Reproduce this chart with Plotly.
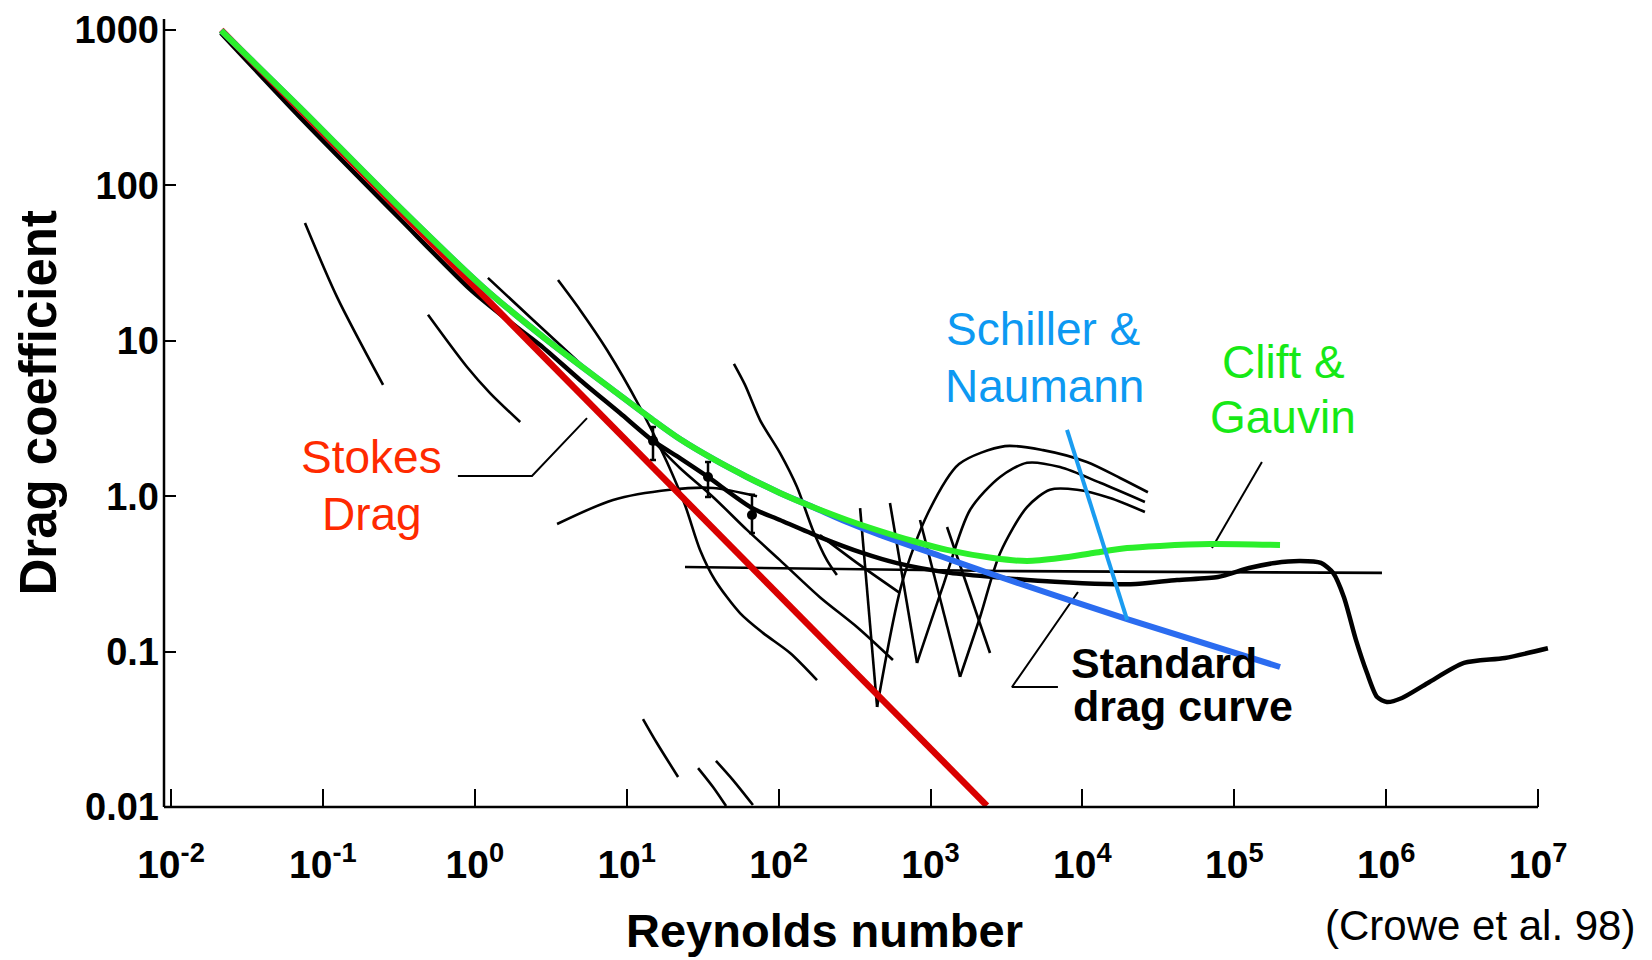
import plotly.graph_objects as go

# ---------------- data (Re, Cd) ----------------
x_tickvals = [1e-2, 1e-1, 1e0, 1e1, 1e2, 1e3, 1e4, 1e5, 1e6, 1e7]
x_ticktext = ["10<sup>-2</sup>", "10<sup>-1</sup>", "10<sup>0</sup>", "10<sup>1</sup>", "10<sup>2</sup>",
              "10<sup>3</sup>", "10<sup>4</sup>", "10<sup>5</sup>", "10<sup>6</sup>", "10<sup>7</sup>"]
y_tickvals = [0.01, 0.1, 1, 10, 100, 1000]
y_ticktext = ["0.01", "0.1", "1.0", "10", "100", "1000"]

stokes_re = [0.0214, 2350]
stokes_cd = [1000, 0.0102]

clift_re = [0.0214, 0.0706, 0.277, 1.13, 2.99, 8.13, 14.9, 22.4, 38.1, 61.9, 102, 168, 282, 465,
            767, 1285, 2580, 4320, 7120, 11750, 19700, 32400, 69200, 200000]
clift_cd = [990, 317, 83.0, 22.2, 10.1, 4.82, 3.09, 2.33, 1.71, 1.33, 1.05, 0.852, 0.703, 0.597,
            0.515, 0.451, 0.400, 0.383, 0.400, 0.431, 0.464, 0.479, 0.492, 0.485]

schiller_re = [0.0214, 0.0706, 0.277, 1.13, 2.99, 8.13, 14.9, 22.4, 38.1, 61.9, 102, 168, 282,
               465, 1156, 2870, 19700, 200000]
schiller_cd = [990, 317, 83.0, 22.2, 10.1, 4.82, 3.09, 2.33, 1.71, 1.33, 1.05, 0.852, 0.682,
               0.563, 0.412, 0.302, 0.162, 0.0796]

std_re = [0.0213, 0.0706, 0.322, 0.929, 1.58, 2.69, 4.93, 9.03, 14.9, 22.4, 34.3, 66.8, 102, 187,
          360, 602, 1343, 3000, 6600, 14300, 22500, 42000, 78000, 125000, 185000, 271000, 372000,
          447000, 527000, 632000, 748000, 871000, 1.01e6, 1.27e6, 1.88e6, 3.25e6, 6.05e6, 1.16e7]
std_cd = [957, 275, 60.8, 21.5, 14.0, 9.40, 5.60, 3.43, 2.27, 1.76, 1.33, 0.839, 0.703, 0.546,
          0.430, 0.371, 0.321, 0.298, 0.281, 0.272, 0.272, 0.289, 0.302, 0.345, 0.372, 0.383, 0.372,
          0.321, 0.224, 0.119, 0.0728, 0.0510, 0.0474, 0.0503, 0.0628, 0.0845, 0.091, 0.105]

pts_re = [14.9, 34.3, 66.8]
pts_cd = [2.27, 1.33, 0.757]
pts_hi = [2.79, 1.66, 1.02]
pts_lo = [1.71, 0.99, 0.58]

# experimental fragments (thin black)
exp_a_re = [0.0762, 0.124, 0.249];  exp_a_cd = [57.3, 19.1, 5.20]
exp_b_re = [0.492, 0.889, 1.26, 1.99];  exp_b_cd = [14.7, 6.78, 4.61, 3.00]
exp_c_re = [1.22, 2.42, 5.32];  exp_c_cd = [25.4, 13.6, 6.68]
exp_d_re = [3.53, 4.93, 7.42, 12.2, 18.4, 24.2, 30.4, 38.1, 55.7, 78.9, 119, 179]
exp_d_cd = [24.6, 15.8, 8.73, 3.75, 1.66, 0.877, 0.451, 0.289, 0.177, 0.132, 0.098, 0.0656]
exp_e_re = [50.8, 60.1, 75.5, 102, 132, 168, 208, 242]
exp_e_cd = [7.10, 5.20, 3.09, 1.90, 1.15, 0.607, 0.388, 0.311]
exp_f_re = [3.48, 8.13, 19.3, 37.0, 72.1];  exp_f_cd = [0.662, 0.946, 1.10, 1.13, 1.00]
exp_g_re = [24.2, 2870, 938000];  exp_g_cd = [0.350, 0.330, 0.321]
exp_h_re = [14.9, 22.4, 37.0, 61.9, 102, 187, 328, 566]
exp_h_cd = [2.27, 1.52, 0.989, 0.607, 0.388, 0.224, 0.144, 0.0883]
exp_i_re = [187, 344, 630];  exp_i_cd = [0.562, 0.360, 0.238]
zig1_re = [344, 445];  zig1_cd = [0.839, 0.0440]
arch1_re = [445, 649, 963, 1541, 3090, 5500, 10700, 17700, 27000]
arch1_cd = [0.0440, 0.276, 0.780, 1.61, 2.10, 1.98, 1.66, 1.31, 1.06]
zig2_re = [541, 815];  zig2_cd = [0.904, 0.0845]
arch2_re = [815, 1227, 1820, 2870, 4320, 7120, 13100, 25800]
arch2_cd = [0.0845, 0.276, 0.815, 1.33, 1.64, 1.54, 1.22, 0.918]
zig3_re = [853, 1565];  zig3_cd = [0.703, 0.0687]
arch3_re = [1565, 2120, 2870, 4320, 6120, 9220, 15200, 25800]
arch3_cd = [0.0687, 0.167, 0.430, 0.851, 1.10, 1.10, 0.973, 0.791]
zig4_re = [1285, 2465];  zig4_cd = [0.634, 0.098]
low1_re = [12.8, 15.8, 21.8];  low1_cd = [0.0368, 0.0258, 0.0156]
low2_re = [29.5, 37.0, 45.1];  low2_cd = [0.0178, 0.01345, 0.01014]
low3_re = [38.7, 50.1, 67.8];  low3_cd = [0.0198, 0.0149, 0.0103]

# leader lines for the labels
stokes_ptr_re = [0.774, 2.38, 5.48];  stokes_ptr_cd = [1.35, 1.35, 3.18]
std_ptr_re = [6900, 3440, 9350];  std_ptr_cd = [0.0592, 0.0592, 0.242]
clift_ptr_re = [152000, 71300];  clift_ptr_cd = [1.66, 0.465]
schiller_ptr_re = [7920, 19700];  schiller_ptr_cd = [2.67, 0.160]

# ---------------- styles ----------------
RED = "#d90000"
GREEN = "#2bef2b"
GREEN_TXT = "#16e916"
BLUE = "#2b6cf0"
BLUE_PTR = "#1a9cf0"
BLUE_TXT = "#0d99f2"
STOKES_TXT = "#ff2a00"
SANS = "Liberation Sans, Arial, sans-serif"

fig = go.Figure()


def add_line(xs, ys, color="black", width=2.5, spline=True, smoothing=1.0):
    fig.add_trace(go.Scatter(
        x=xs, y=ys, mode="lines", hoverinfo="skip", showlegend=False,
        line=dict(color=color, width=width,
                  shape="spline" if spline else "linear", smoothing=smoothing)))


thin = [(exp_a_re, exp_a_cd), (exp_b_re, exp_b_cd), (exp_c_re, exp_c_cd), (exp_d_re, exp_d_cd),
        (exp_e_re, exp_e_cd), (exp_f_re, exp_f_cd), (exp_g_re, exp_g_cd), (exp_h_re, exp_h_cd),
        (exp_i_re, exp_i_cd), (arch1_re, arch1_cd), (arch2_re, arch2_cd), (arch3_re, arch3_cd),
        (low1_re, low1_cd), (low2_re, low2_cd), (low3_re, low3_cd)]
for xs, ys in thin:
    add_line(xs, ys, width=2.6, smoothing=0.8)
for xs, ys in [(zig1_re, zig1_cd), (zig2_re, zig2_cd), (zig3_re, zig3_cd), (zig4_re, zig4_cd)]:
    add_line(xs, ys, width=2.6, spline=False)

# leader lines
for xs, ys in [(stokes_ptr_re, stokes_ptr_cd), (std_ptr_re, std_ptr_cd), (clift_ptr_re, clift_ptr_cd)]:
    add_line(xs, ys, width=2, spline=False)

# standard drag curve (thick black)
add_line(std_re, std_cd, width=4.5, smoothing=0.7)
fig.add_trace(go.Scatter(
    x=pts_re, y=pts_cd, mode="markers", hoverinfo="skip", showlegend=False,
    marker=dict(color="black", size=10),
    error_y=dict(type="data", symmetric=False,
                 array=[h - v for h, v in zip(pts_hi, pts_cd)],
                 arrayminus=[v - l for v, l in zip(pts_cd, pts_lo)],
                 color="black", thickness=2.5, width=3)))

# Stokes, Schiller & Naumann, Clift & Gauvin
add_line(stokes_re, stokes_cd, color=RED, width=6.5, spline=False)
add_line(schiller_re, schiller_cd, color=BLUE, width=6, smoothing=0.8)
add_line(clift_re, clift_cd, color=GREEN, width=6, smoothing=0.8)
add_line(schiller_ptr_re, schiller_ptr_cd, color=BLUE_PTR, width=4, spline=False)

# ---------------- layout geometry ----------------
W, H = 1652, 960
L, R, T, B = 164, 92, 10, 153
PW, PH = W - L - R, H - T - B


def px(xp):
    return (xp - L) / PW


def py(yp):
    return (H - B - yp) / PH


labels = [
    ("Stokes", 371.5, 457, STOKES_TXT, 46, "normal", "center", 0),
    ("Drag", 372, 514, STOKES_TXT, 46, "normal", "center", 0),
    ("Schiller &amp;", 1043, 329, BLUE_TXT, 46, "normal", "center", 0),
    ("Naumann", 1044, 386, BLUE_TXT, 46, "normal", "center", 0),
    ("Clift &amp;", 1283, 362, GREEN_TXT, 46, "normal", "center", 0),
    ("Gauvin", 1283, 417, GREEN_TXT, 46, "normal", "center", 0),
    ("Standard", 1069, 663, "black", 43, "bold", "left", 0),
    ("drag curve", 1071, 706, "black", 43, "bold", "left", 0),
    ("(Crowe et al. 98)", 1480, 926, "black", 42, "normal", "center", 0),
    ("Reynolds number", 824, 930, "black", 47, "bold", "center", 0),
    ("Drag coefficient", 37.5, 403, "black", 51, "bold", "center", -90),
]
annotations = []
for text, xp, yp, col, size, weight, xanchor, ang in labels:
    annotations.append(dict(
        text=text, xref="paper", yref="paper", x=px(xp), y=py(yp),
        xanchor=xanchor, yanchor="middle", showarrow=False, textangle=ang,
        font=dict(family=SANS, size=size, color=col, weight=weight)))

fig.update_layout(
    width=W, height=H, margin=dict(l=L, r=R, t=T, b=B),
    paper_bgcolor="white", plot_bgcolor="white", showlegend=False,
    annotations=annotations,
    shapes=[
        dict(type="line", xref="paper", yref="paper", x0=0, x1=px(1538), y0=0, y1=0,
             line=dict(color="black", width=2.5)),
        dict(type="line", xref="paper", yref="paper", x0=0, x1=0, y0=0, y1=py(19),
             line=dict(color="black", width=2.5)),
    ],
)
fig.update_xaxes(
    type="log", range=[-2.0461, 7.1442], tickvals=x_tickvals, ticktext=x_ticktext,
    ticks="inside", ticklen=18, tickwidth=2, tickcolor="black",
    showgrid=False, zeroline=False, showline=False, ticklabelstandoff=31,
    tickfont=dict(family=SANS, size=39, color="black", weight="bold"))
fig.update_yaxes(
    type="log", range=[-2, 3.1287], tickvals=y_tickvals, ticktext=y_ticktext,
    ticks="inside", ticklen=12, tickwidth=2, tickcolor="black",
    showgrid=False, zeroline=False, showline=False, ticklabelstandoff=4,
    tickfont=dict(family=SANS, size=38, color="black", weight="bold"))

fig.write_html("out.html", config={"displayModeBar": False},
               post_script="document.body.style.margin='0';document.body.style.overflow='hidden';")
